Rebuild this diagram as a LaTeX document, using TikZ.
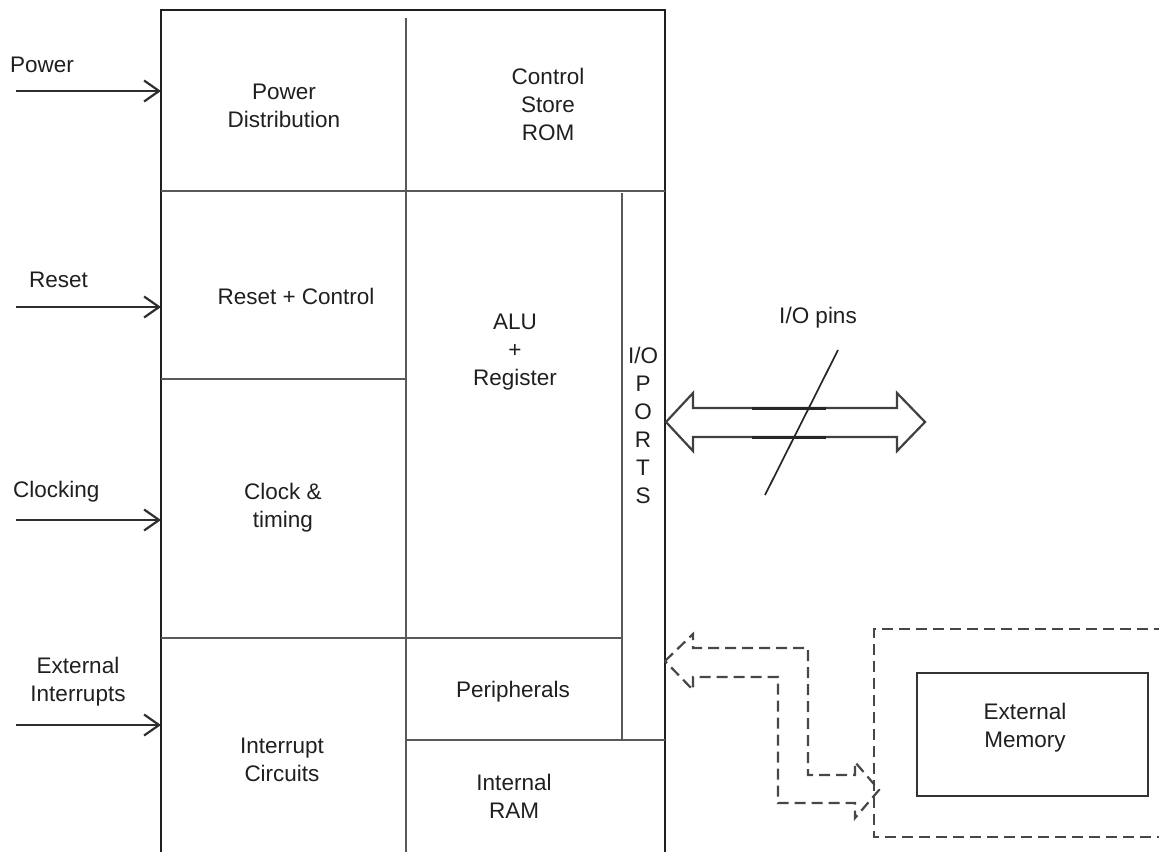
\documentclass[tikz,border=0pt]{standalone}
\usepackage{fontspec}
\setmainfont{Liberation Sans}
\usetikzlibrary{arrows.meta}
\begin{document}
\begin{tikzpicture}[x=1pt,y=-1pt,
  lbl/.style={align=center,inner sep=0pt,font=\fontsize{22.5}{28}\selectfont,text=black!88},
  lbll/.style={lbl,anchor=west},
  frame/.style={line width=2.2pt,draw=black!88},
  part/.style={line width=2.2pt,draw=black!65},
  inarr/.style={line width=2.2pt,draw=black!82,-{Straight Barb[length=15pt,width=21pt,line width=2.2pt]}},
  dsh/.style={line width=2.2pt,draw=black!72,dash pattern=on 11pt off 6pt,line join=miter},
  hollow/.style={line width=2.2pt,draw=black!75,line join=miter},
]
\useasboundingbox (0,0) rectangle (1159,852);
% main frame (open at the bottom)
\draw[frame] (161,852) -- (161,10) -- (665,10) -- (665,852);
% partitions
\draw[part] (406,18) -- (406,852);
\draw[part] (161,191) -- (665,191);
\draw[part] (161,379) -- (406,379);
\draw[part] (161,638) -- (622,638);
\draw[part] (622,193) -- (622,740);
\draw[part] (406,740) -- (665,740);
% block labels
\node[lbl] (pd) at (284,106) {Power\\Distribution};
\node[lbl] (cs) at (548,104) {Control\\Store\\ROM};
\node[lbl] (rc) at (296,296) {Reset + Control};
\node[lbl] (alu) at (515,352) {ALU\\+\\Register};
\node[lbl] (io) at (643,425) {I/O\\P\\O\\R\\T\\S};
\node[lbl] (ck) at (283,508) {Clock \&\\timing};
\node[lbl] (per) at (513,692) {Peripherals};
\node[lbl] (ic) at (282,760) {Interrupt\\Circuits};
\node[lbl] (ram) at (514,796) {Internal\\RAM};
% input signals
\node[lbll] (lpw) at (10,65) {Power};
\node[lbll] (lrs) at (29,280) {Reset};
\node[lbll] (lck) at (13,492) {Clocking};
\node[lbl] (lei) at (78,682) {External\\Interrupts};
\coordinate (pw0) at (16,91);  \coordinate (pw1) at (161,91);
\coordinate (rs0) at (16,307); \coordinate (rs1) at (161,307);
\coordinate (ck0) at (16,520); \coordinate (ck1) at (161,520);
\coordinate (ei0) at (16,725); \coordinate (ei1) at (161,725);
\draw[inarr] (pw0) -- (pw1);
\draw[inarr] (rs0) -- (rs1);
\draw[inarr] (ck0) -- (ck1);
\draw[inarr] (ei0) -- (ei1);
% I/O pins bus arrow
\draw[hollow] (666,422) -- (693,393) -- (693,408) -- (897,408) -- (897,393)
  -- (925,422) -- (897,451) -- (897,437) -- (693,437) -- (693,451) -- cycle;
\draw[line width=3pt,black!85] (752,408) -- (826,408);
\draw[line width=3pt,black!85] (752,437) -- (826,437);
\coordinate (sl0) at (765,495); \coordinate (sl1) at (838,350);
\draw[line width=1.7pt,black!85] (sl0) -- (sl1);
\node[lbl] (pins) at (818,318) {I/O pins};
% external memory
\draw[dsh] (1165,629) -- (874,629) -- (874,837) -- (1165,837);
\node[draw=black!80,line width=2.2pt,minimum width=231pt,minimum height=123pt,inner sep=0pt] (em) at (1032.5,734.5) {};
\node[lbl] (emt) at (1025,728) {External\\Memory};
% dashed bent bus arrow
\draw[dsh] (665,661) -- (693,634) -- (693,648) -- (808,648) -- (808,775) -- (855,775)
  -- (855,762) -- (879,790) -- (855,818) -- (855,803) -- (778,803) -- (778,677)
  -- (693,677) -- (693,690) -- cycle;
\end{tikzpicture}
\end{document}
